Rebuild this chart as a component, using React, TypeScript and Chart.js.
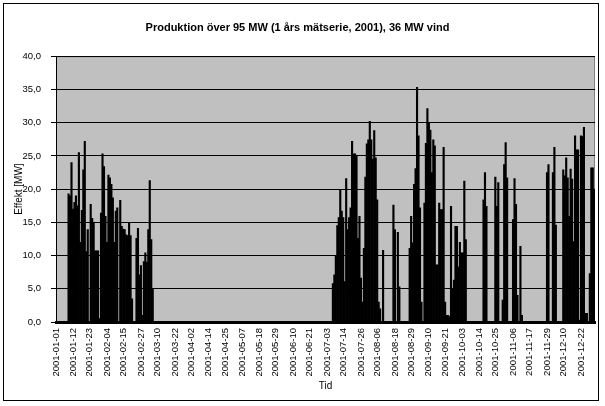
import React, { useEffect, useRef } from "react";
import { Chart, registerables } from "chart.js";

Chart.register(...registerables);

// Daily peak production (MW) per month
const jan = [0, 0, 0, 0, 0, 0, 0, 0, 19.3, 19, 24, 17, 18, 19, 17.5, 25.5, 12, 16.8, 22.9, 27.2, 10.6, 13.9, 0, 17.7, 15.6, 14.9, 10.7, 10.7, 10.7, 0.5, 16.4];
const feb = [25.3, 23.4, 15.9, 12, 22.1, 21.7, 20.7, 18.7, 12, 16.7, 17.2, 0, 18.3, 14.4, 14, 13.9, 13.1, 13, 14.9, 13, 3.5, 0, 0, 12.6, 14.1, 7.1, 8.5, 1];
const mar = [9.1, 10.4, 9, 13.9, 21.3, 12.4, 5, 0, 0, 0, 0, 0, 0, 0, 0, 0, 0, 0, 0, 0, 0, 0, 0, 0, 0, 0, 0, 0, 0, 0, 0];
const apr = [0, 0, 0, 0, 0, 0, 0, 0, 0, 0, 0, 0, 0, 0, 0, 0, 0, 0, 0, 0, 0, 0, 0, 0, 0, 0, 0, 0, 0, 0];
const may = [0, 0, 0, 0, 0, 0, 0, 0, 0, 0, 0, 0, 0, 0, 0, 0, 0, 0, 0, 0, 0, 0, 0, 0, 0, 0, 0, 0, 0, 0, 0];
const jun = [0, 0, 0, 0, 0, 0, 0, 0, 0, 0, 0, 0, 0, 0, 0, 0, 0, 0, 0, 0, 0, 0, 0, 0, 0, 0, 0, 0, 0, 0];
const jul = [0, 0, 0, 0, 0, 0, 5.8, 7.1, 10, 14.5, 15.7, 19.8, 16.7, 15.7, 6.1, 21.6, 13.9, 15.7, 17.2, 27.2, 25.3, 25.3, 25, 12.6, 15.9, 6.6, 3, 11.1, 21.8, 26.8, 27.4];
const aug = [30.2, 27.4, 24.5, 28.8, 24.7, 18.4, 3, 2, 0, 10.8, 0, 0, 0, 0, 0, 0, 17.6, 13.9, 0, 13.5, 5.3, 0, 0, 0, 0, 0, 0, 11.1, 15.9, 11.9, 20.7];
const sep = [23.1, 35.3, 28, 17.2, 3, 0, 17.9, 26.9, 32.1, 30, 28.9, 22.5, 27.4, 26.5, 8.6, 8.6, 17.9, 16.9, 16.9, 26.3, 3, 1, 1, 0.8, 17.4, 5, 6.3, 14.4, 14.4, 8.3];
const oct = [12, 10.4, 10.4, 21.2, 12.4, 0, 0, 0, 0, 0, 0, 0, 0, 0, 0, 0, 18.4, 22.5, 17.4, 0, 0, 0, 0, 0, 21.8, 17.4, 21, 0, 0, 3.3, 23.7];
const nov = [27, 21.7, 0, 0, 0, 15.4, 21.6, 17.7, 4, 0, 11.4, 1, 0, 0, 0, 0, 0, 0, 0, 0, 0, 0, 0, 0, 0, 0, 0, 0, 22.5, 23.7];
const dec = [0, 0, 22.5, 26.3, 14.6, 0, 0, 0, 0, 22.9, 22, 24.7, 21.7, 15.9, 23, 21.5, 12.1, 28, 25.9, 25.9, 0.3, 28, 27.9, 29.3, 1.3, 1.3, 0, 7.3, 23.2, 23.2, 20];

const tickLabels = [
  "2001-01-01", "2001-01-12", "2001-01-23", "2001-02-04", "2001-02-15", "2001-02-27",
  "2001-03-10", "2001-03-22", "2001-04-02", "2001-04-14", "2001-04-25", "2001-05-07",
  "2001-05-18", "2001-05-29", "2001-06-10", "2001-06-21", "2001-07-03", "2001-07-14",
  "2001-07-26", "2001-08-06", "2001-08-18", "2001-08-29", "2001-09-10", "2001-09-21",
  "2001-10-03", "2001-10-14", "2001-10-25", "2001-11-06", "2001-11-17", "2001-11-29",
  "2001-12-10", "2001-12-22",
];

const chartTitle = "Produktion över 95 MW (1 års mätserie, 2001), 36 MW vind";
const yTitle = "Effekt [MW]";
const xTitle = "Tid";
const yMin = 0;
const yMax = 40;
const yStep = 5;

const values = [...jan, ...feb, ...mar, ...apr, ...may, ...jun, ...jul, ...aug, ...sep, ...oct, ...nov, ...dec];
const dayLabels = values.map((_, i) => String(i));

function dayOfYear(s: string): number {
  const t = Date.parse(s + "T00:00:00Z");
  return Math.round((t - Date.UTC(2001, 0, 1)) / 86400000);
}
const tickIndex = new Map<number, string>(tickLabels.map((l) => [dayOfYear(l), l]));

const FONT = "'Liberation Sans', Arial, Helvetica, sans-serif";

const framePlugin = {
  id: "frame",
  beforeDraw(chart: any) {
    const { ctx, chartArea, width, height } = chart;
    ctx.save();
    ctx.fillStyle = "#ffffff";
    ctx.fillRect(0, 0, width, height);
    ctx.strokeStyle = "#000000";
    ctx.lineWidth = 1;
    ctx.strokeRect(3.5, 3.5, 595, 397);
    ctx.fillStyle = "#c0c0c0";
    ctx.fillRect(chartArea.left, chartArea.top, chartArea.right - chartArea.left, chartArea.bottom - chartArea.top);
    ctx.strokeStyle = "#808080";
    ctx.strokeRect(chartArea.left + 0.5, chartArea.top + 0.5, chartArea.right - chartArea.left - 1, chartArea.bottom - chartArea.top - 1);
    ctx.restore();
  },
};

export default function App() {
  const ref = useRef<HTMLCanvasElement | null>(null);
  useEffect(() => {
    if (!ref.current) return;
    const chart = new Chart(ref.current, {
      type: "bar",
      data: {
        labels: dayLabels,
        datasets: [
          {
            data: values,
            backgroundColor: "#000000",
            borderWidth: 0,
            barPercentage: 1,
            categoryPercentage: 1,
          },
        ],
      },
      options: {
        responsive: false,
        animation: false,
        events: [],
        layout: { padding: { left: 0, right: 10, top: 0, bottom: 0 } },
        plugins: {
          legend: { display: false },
          tooltip: { enabled: false },
          title: {
            display: true,
            text: chartTitle,
            color: "#000000",
            font: { family: FONT, size: 11, weight: "bold" },
            padding: { top: 21, bottom: 22 },
          },
        },
        scales: {
          x: {
            grid: { display: false, drawTicks: false },
            border: { display: true, color: "#000000", width: 3 },
            ticks: {
              autoSkip: false,
              maxRotation: 90,
              minRotation: 90,
              padding: 6,
              color: "#000000",
              font: { family: FONT, size: 9.5 },
              callback: (v: any) => tickIndex.get(Number(v)) ?? "",
            },
            afterBuildTicks: (s: any) => {
              s.ticks = s.ticks.filter((t: any) => tickIndex.has(t.value));
            },
            afterFit: (s: any) => {
              s.height = 84;
            },
            title: {
              display: true,
              text: xTitle,
              color: "#000000",
              font: { family: FONT, size: 10 },
              padding: { top: 0, bottom: 14 },
            },
          },
          y: {
            min: yMin,
            max: yMax,
            ticks: {
              stepSize: yStep,
              padding: 10,
              color: "#000000",
              font: { family: FONT, size: 9.5 },
              callback: (v: any) => Number(v).toFixed(1).replace(".", ","),
            },
            grid: { color: "#000000", lineWidth: 1, drawTicks: true, tickLength: 5, tickColor: "#000000" },
            border: { display: true, color: "#000000", width: 1 },
            afterFit: (s: any) => {
              s.width = 56;
            },
            title: {
              display: true,
              text: yTitle,
              color: "#000000",
              font: { family: FONT, size: 10 },
              padding: { top: 13, bottom: 0 },
            },
          },
        },
      },
      plugins: [framePlugin],
    } as any);
    return () => chart.destroy();
  }, []);
  return (
    <div style={{ position: "fixed", left: 0, top: 0, width: 605, height: 406, background: "#fff" }}>
      <canvas ref={ref} width={605} height={406} style={{ display: "block" }} />
    </div>
  );
}
